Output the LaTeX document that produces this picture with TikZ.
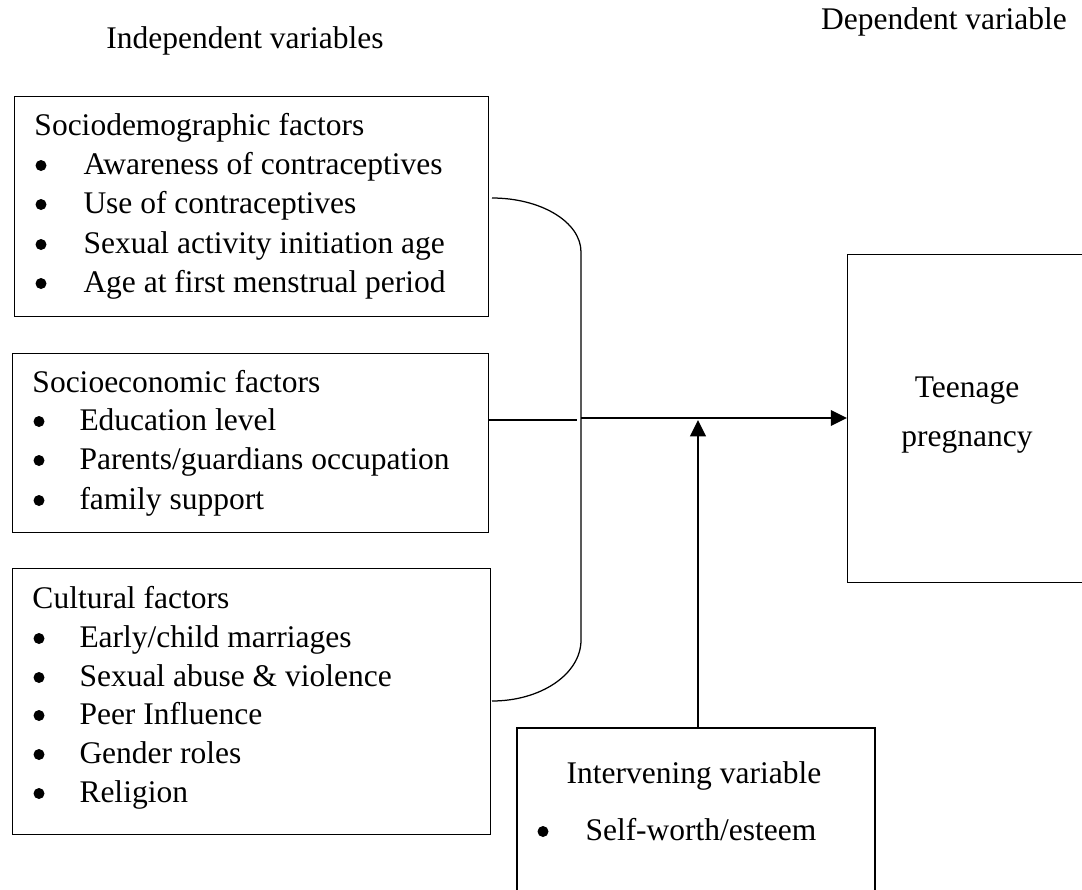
\documentclass[tikz,border=0pt]{standalone}
\usepackage{fontspec}
\setmainfont{Liberation Serif}
\usetikzlibrary{arrows.meta}
\begin{document}
\begin{tikzpicture}[x=0.4pt,y=-0.4pt,
  font=\fontsize{12.6}{15.7}\selectfont,
  box/.style={draw, line width=0.55pt, anchor=north west, inner sep=0pt},
  ibox/.style={draw, line width=0.9pt, anchor=north west, inner sep=0pt},
  txt/.style={anchor=base west, inner sep=0pt},
  ctxt/.style={anchor=base, inner sep=0pt},
  bul/.style={circle, fill, inner sep=0pt, minimum size=4.4pt},
  thin/.style={line width=0.5pt},
  arr/.style={line width=0.9pt, -{Triangle[length=6.5pt,width=6.2pt]}}]
\useasboundingbox (0,0) rectangle (1082,889);
% titles
\node[ctxt] (indep) at (245,48) {Independent variables};
\node[ctxt] (dep) at (944,29) {Dependent variable};
% box 1
\node[box, minimum width=189.6pt, minimum height=88pt] (b1) at (14,96) {};
\node[txt] (b1h) at (34,135) {Sociodemographic factors};
\node[bul] (b1ba) at (41,165.5) {};
\node[txt] (b1a) at (83,174) {Awareness of contraceptives};
\node[bul] (b1bb) at (41,204.5) {};
\node[txt] (b1b) at (83,213) {Use of contraceptives};
\node[bul] (b1bc) at (41,244.5) {};
\node[txt] (b1c) at (83,253) {Sexual activity initiation age};
\node[bul] (b1bd) at (41,283.5) {};
\node[txt] (b1d) at (83,292) {Age at first menstrual period};
% box 2
\node[box, minimum width=190.4pt, minimum height=71.6pt] (b2) at (12,353) {};
\node[txt] (b2h) at (32,392) {Socioeconomic factors};
\node[bul] (b2ba) at (39,421.5) {};
\node[txt] (b2a) at (79,430) {Education level};
\node[bul] (b2bb) at (39,460.5) {};
\node[txt] (b2b) at (79,469) {Parents/guardians occupation};
\node[bul] (b2bc) at (39,500.5) {};
\node[txt] (b2c) at (79,509) {family support};
% box 3
\node[box, minimum width=191.2pt, minimum height=106.4pt] (b3) at (12,568) {};
\node[txt] (b3h) at (32,608) {Cultural factors};
\node[bul] (b3ba) at (39,638.5) {};
\node[txt] (b3a) at (79,647) {Early/child marriages};
\node[bul] (b3bb) at (39,677.5) {};
\node[txt] (b3b) at (79,686) {Sexual abuse \& violence};
\node[bul] (b3bc) at (39,715.5) {};
\node[txt] (b3c) at (79,724) {Peer Influence};
\node[bul] (b3bd) at (39,754.5) {};
\node[txt] (b3d) at (79,763) {Gender roles};
\node[bul] (b3be) at (39,793.5) {};
\node[txt] (b3e) at (79,802) {Religion};
% dependent box (open to the right edge)
\node[box, minimum width=110pt, minimum height=131.2pt] (rb) at (847,254) {};
\node[ctxt] (teen) at (967,397) {Teenage};
\node[ctxt] (preg) at (967,446) {pregnancy};
% intervening box (open at the bottom edge)
\node[ibox, minimum width=143.2pt, minimum height=72pt] (ib) at (516,727) {};
\node[ctxt] (ibh) at (694,783) {Intervening variable};
\node[bul] (ibb) at (543,831.5) {};
\node[txt] (ibt) at (585,840) {Self-worth/esteem};
% bracket
\draw[thin] (492,198) .. controls (541,198) and (581,222) .. (581,252)
  -- (581,640) .. controls (581,674) and (541,701) .. (492,701);
\coordinate (j) at (581,418);
\coordinate (m) at (577,420);
\draw[thin] (b2.east |- m) -- (m);
\draw[arr] (j) -- (rb.west |- j);
\coordinate (up) at (698,727);
\coordinate (upend) at (698,420);
\draw[arr] (up) -- (upend);
\end{tikzpicture}
\end{document}
